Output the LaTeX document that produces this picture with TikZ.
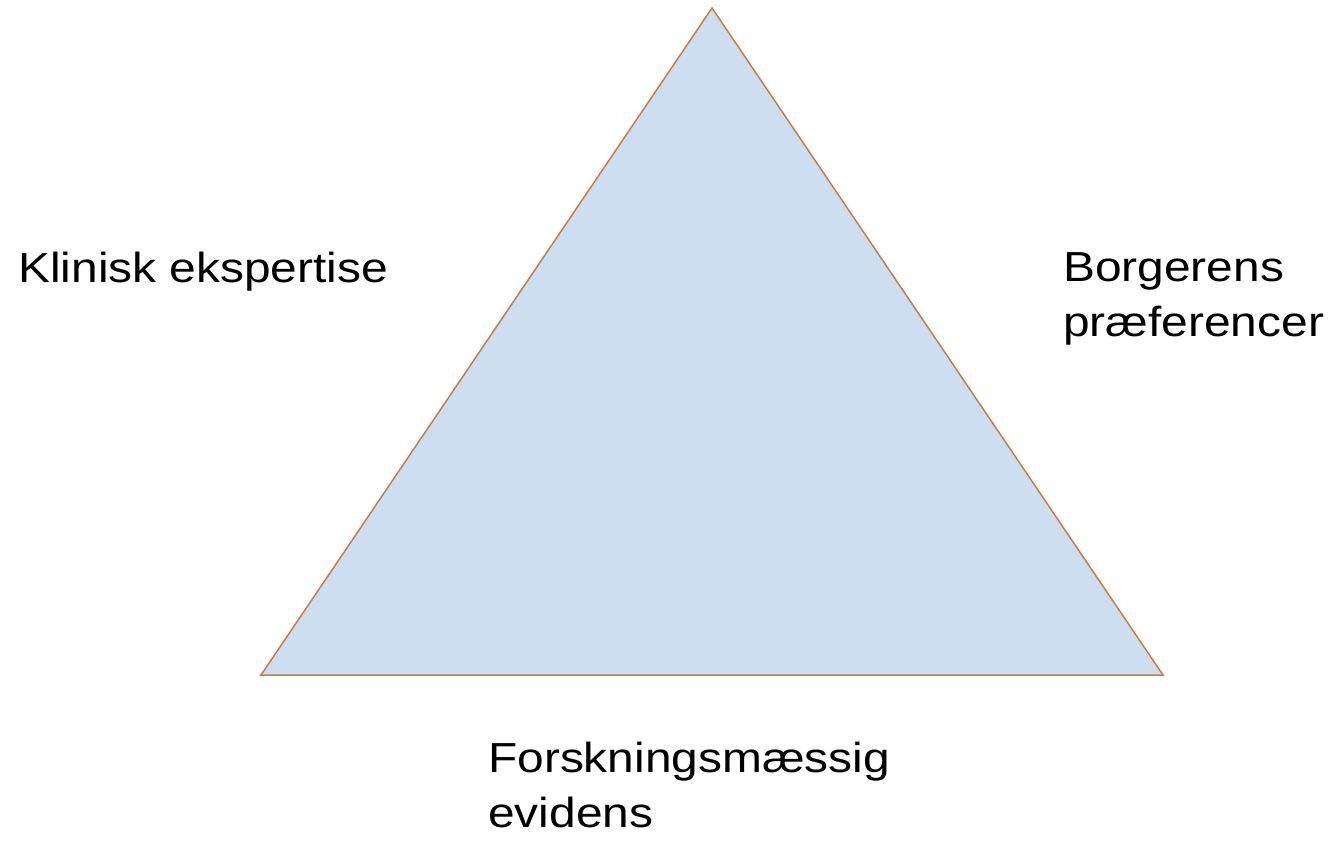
\documentclass[tikz,border=0pt]{standalone}
\usepackage{fontspec}
\setmainfont[FakeStretch=1.14]{Liberation Sans}
\definecolor{triFill}{RGB}{205,222,241}
\definecolor{triEdge}{RGB}{200,125,70}

\begin{document}
\begin{tikzpicture}[x=1pt, y=1pt, every node/.style={inner sep=0, anchor=base west, align=left, font=\fontsize{42}{55}\selectfont}]
	\useasboundingbox (0,0) rectangle (1332,841);

	\coordinate (top) at (712,833);
	\coordinate (left) at (261,166);
	\coordinate (right) at (1163,166);
	\filldraw[fill=triFill, draw=triEdge, line width=1.5pt, line join=miter] (top) -- (left) -- (right) -- cycle;

	\node (klinisk) at (18,558) {Klinisk ekspertise};
	\node (borger) at (1063,504) {Borgerens\\præferencer};
	\node (forsk) at (488,14) {Forskningsmæssig\\evidens};
\end{tikzpicture}
\end{document}
